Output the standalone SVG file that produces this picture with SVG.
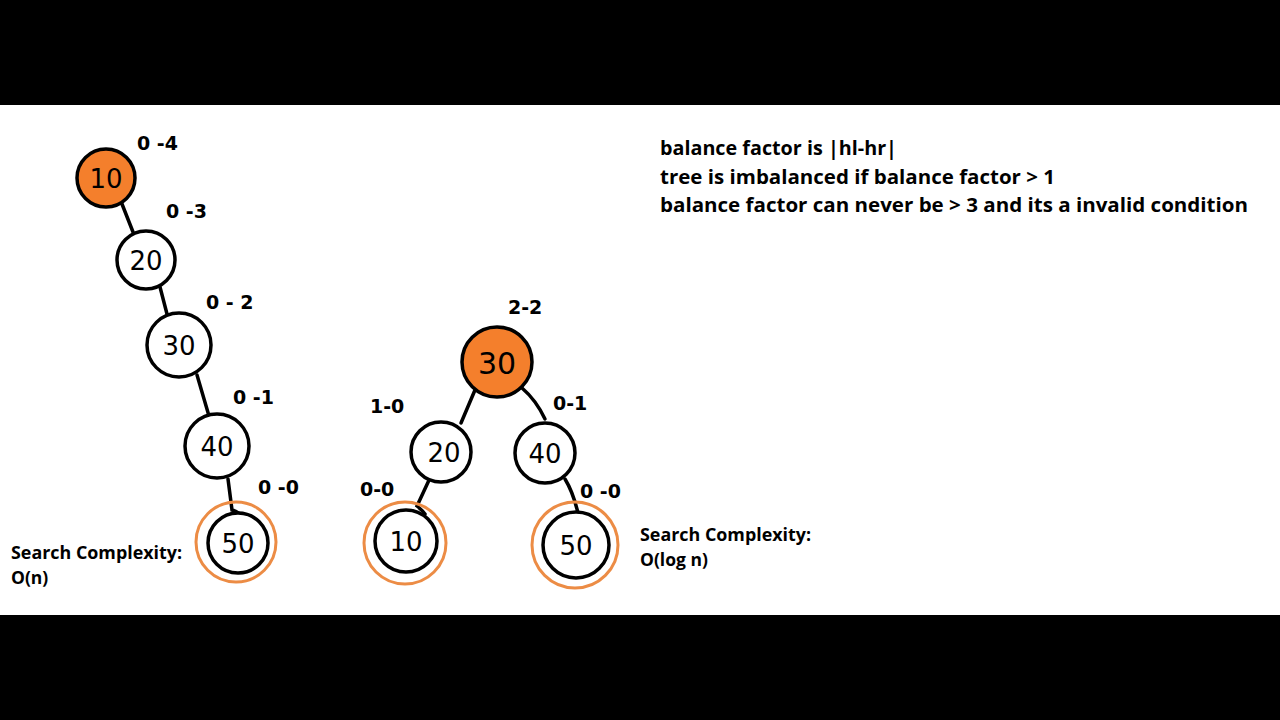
<svg xmlns="http://www.w3.org/2000/svg" width="1280" height="720" viewBox="0 0 1280 720">
<style>
.node{fill:#fff;stroke:#000;stroke-width:3.5}
.hot{fill:#F47F2C;stroke:#000;stroke-width:3.5}
.ring{fill:none;stroke:#EC8C45;stroke-width:3}
.edge{stroke:#000;stroke-width:3.5;fill:none;stroke-linecap:round}
.nt{font-family:"DejaVu Sans",sans-serif;font-size:26px;fill:#000;text-anchor:middle}
.bf{font-family:"DejaVu Sans",sans-serif;font-size:19px;font-weight:bold;fill:#000}
.info{font-family:"Open Sans","Liberation Sans",sans-serif;font-size:19px;font-weight:bold;fill:#000}
.sc{font-family:"Open Sans","Liberation Sans",sans-serif;font-size:17.5px;font-weight:bold;fill:#000}
</style>
<rect x="0" y="0" width="1280" height="720" fill="#000"/>
<rect x="0" y="105" width="1280" height="510" fill="#fff"/>

<g id="connectors">
<path class="edge" d="M122 204 L133 232"/>
<path class="edge" d="M160 287 L167 314"/>
<path class="edge" d="M197 375 L209 416"/>
<path class="edge" d="M228 479 L232 510 Q240 512 242 518"/>
<path class="edge" d="M475 390 L461 423"/>
<path class="edge" d="M522 388 Q536 400 545 419"/>
<path class="edge" d="M430 478 L417 506 Q422 510 425 514"/>
<path class="edge" d="M565 479 Q573 492 578 513 Q586 515 590 520"/>
</g>

<g id="left-tree">
<g id="L10"><circle class="hot" cx="106" cy="178" r="29"/><text class="nt" x="106" y="188">10</text></g>
<g id="L20"><circle class="node" cx="146" cy="260" r="29"/><text class="nt" x="146" y="270">20</text></g>
<g id="L30"><circle class="node" cx="179" cy="345" r="32"/><text class="nt" x="179" y="355">30</text></g>
<g id="L40"><circle class="node" cx="217" cy="446" r="32"/><text class="nt" x="217" y="456">40</text></g>
<g id="L50"><circle class="ring" cx="236" cy="542" r="40"/><circle class="node" cx="238" cy="543" r="30"/><text class="nt" x="238" y="553">50</text></g>
<text class="bf" x="137" y="150">0 -4</text>
<text class="bf" x="166" y="218">0 -3</text>
<text class="bf" x="206" y="309">0 - 2</text>
<text class="bf" x="233" y="404">0 -1</text>
<text class="bf" x="258" y="494">0 -0</text>
</g>

<g id="right-tree">
<g id="R30"><circle class="hot" cx="497" cy="362" r="35"/><text class="nt" x="497" y="374" style="font-size:30px">30</text></g>
<g id="R20"><circle class="node" cx="441" cy="452" r="30"/><text class="nt" x="444" y="462">20</text></g>
<g id="R40"><circle class="node" cx="545" cy="453" r="30"/><text class="nt" x="545" y="463">40</text></g>
<g id="R10"><circle class="ring" cx="405" cy="543" r="41"/><circle class="node" cx="406" cy="541" r="31"/><text class="nt" x="406" y="551">10</text></g>
<g id="R50"><circle class="ring" cx="575" cy="545" r="43"/><circle class="node" cx="576" cy="545" r="33"/><text class="nt" x="576" y="555">50</text></g>
<text class="bf" x="508" y="314">2-2</text>
<text class="bf" x="370" y="413">1-0</text>
<text class="bf" x="553" y="410">0-1</text>
<text class="bf" x="360" y="496">0-0</text>
<text class="bf" x="580" y="498">0 -0</text>
</g>

<g id="notes">
<text class="info" x="660" y="155" textLength="237" lengthAdjust="spacingAndGlyphs">balance factor is |hl-hr|</text>
<text class="info" x="660" y="184" textLength="395" lengthAdjust="spacingAndGlyphs">tree is imbalanced if balance factor &gt; 1</text>
<text class="info" x="660" y="212" textLength="588" lengthAdjust="spacingAndGlyphs">balance factor can never be &gt; 3 and its a invalid condition</text>
<text class="sc" x="11" y="559" textLength="171" lengthAdjust="spacingAndGlyphs">Search Complexity:</text>
<text class="sc" x="11" y="584">O(n)</text>
<text class="sc" x="640" y="541" textLength="171" lengthAdjust="spacingAndGlyphs">Search Complexity:</text>
<text class="sc" x="640" y="566">O(log n)</text>
</g>
</svg>
